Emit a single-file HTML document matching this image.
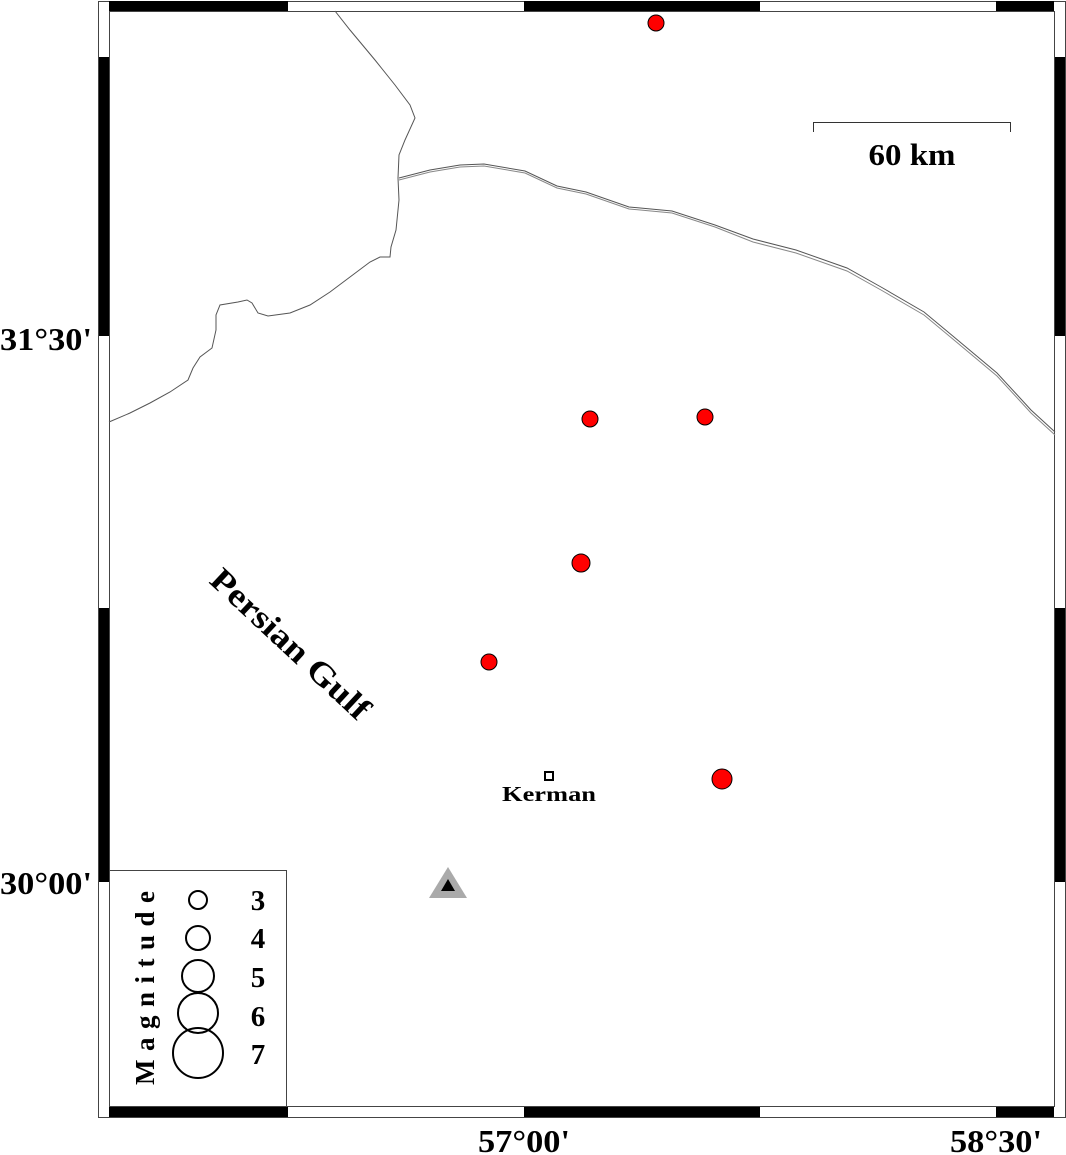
<!DOCTYPE html>
<html><head><meta charset="utf-8"><style>html,body{margin:0;padding:0;background:#fff}svg{display:block}</style></head>
<body>
<svg width="1066" height="1155" viewBox="0 0 1066 1155" xmlns="http://www.w3.org/2000/svg" font-family="Liberation Serif, serif" font-weight="bold">
<rect x="0" y="0" width="1066" height="1155" fill="#fff"/>
<rect x="98.5" y="1.5" width="967" height="1116" fill="#fff" stroke="#444" stroke-width="1"/>
<g fill="#000">
<rect x="109" y="1" width="179" height="10"/><rect x="524" y="1" width="236" height="10"/><rect x="996" y="1" width="58" height="10"/>
<rect x="109" y="1107" width="179" height="10"/><rect x="524" y="1107" width="236" height="10"/><rect x="996" y="1107" width="58" height="10"/>
<rect x="99" y="57" width="10" height="279"/><rect x="99" y="608" width="10" height="274"/>
<rect x="1055" y="57" width="10" height="279"/><rect x="1055" y="608" width="10" height="274"/>
</g>
<rect x="109.5" y="11.5" width="945" height="1095" fill="none" stroke="#444" stroke-width="1"/>
<g fill="none" stroke="#555" stroke-width="1">
<path d="M335,11 L350,30 L375,60 L395,85 L410,105 L415,118 L405,140 L399,155 L398,178 L399,200 L396,230 L391,247 L390,257 L380,257 L370,262 L350,277 L330,292 L310,305 L290,313 L268,316 L258,313 L252,303 L247,300 L238,302 L220,305 L216,315 L216,330 L212,348 L200,357 L193,368 L188,380 L170,392 L150,403 L130,413 L109,422"/>
<path d="M399,178 L430,170 L460,165 L484,164 L525,171 L557,186 L586,192 L629,207 L672,211 L715,225 L753,239 L796,250 L847,268 L881,287 L924,312 L954,337 L997,373 L1031,410 L1055,432"/>
<path d="M399,180 L430,172 L460,167 L484,166 L525,173 L557,188 L586,194 L629,209 L672,213 L715,227 L753,242 L796,253 L847,271 L881,290 L924,315 L954,340 L997,376 L1031,413 L1055,435" stroke="#888"/>
</g>
<g fill="#f00" stroke="#000" stroke-width="1">
<circle cx="656" cy="23" r="8"/>
<circle cx="590" cy="419" r="8"/>
<circle cx="705" cy="417" r="8"/>
<circle cx="581" cy="563" r="9"/>
<circle cx="489" cy="662" r="8"/>
<circle cx="722" cy="779" r="10"/>
</g>
<rect x="545" y="772" width="8" height="8" fill="#fff" stroke="#000" stroke-width="2"/>
<text x="549" y="801" font-size="21" text-anchor="middle" textLength="94" lengthAdjust="spacingAndGlyphs">Kerman</text>
<polygon points="448,867 467,898 429,898" fill="#aaa"/>
<polygon points="448,879 455,891 441,891" fill="#000"/>
<path d="M813.5,132 V122.5 H1010.5 V132" fill="none" stroke="#333" stroke-width="1"/>
<text x="912" y="165" font-size="31" text-anchor="middle" textLength="87" lengthAdjust="spacingAndGlyphs">60 km</text>
<text x="0" y="0" font-size="33" text-anchor="middle" transform="translate(283,652) rotate(43)" textLength="205" lengthAdjust="spacingAndGlyphs">Persian Gulf</text>
<rect x="109.5" y="870.5" width="177" height="236" fill="#fff" stroke="#444" stroke-width="1"/>
<text x="0" y="0" font-size="27" text-anchor="middle" transform="translate(154,988) rotate(-90)" textLength="194" lengthAdjust="spacing">Magnitude</text>
<g fill="none" stroke="#000" stroke-width="2">
<circle cx="198" cy="900" r="9"/>
<circle cx="198" cy="938" r="12"/>
<circle cx="198" cy="976" r="16"/>
<circle cx="198" cy="1013" r="20"/>
<circle cx="198" cy="1053" r="25"/>
</g>
<g font-size="29" text-anchor="middle">
<text x="258" y="910">3</text>
<text x="258" y="948">4</text>
<text x="258" y="987">5</text>
<text x="258" y="1026">6</text>
<text x="258" y="1064">7</text>
</g>
<g font-size="32">
<text x="0" y="350" textLength="92" lengthAdjust="spacingAndGlyphs">31°30'</text>
<text x="0" y="894" textLength="92" lengthAdjust="spacingAndGlyphs">30°00'</text>
<text x="478" y="1152" textLength="92" lengthAdjust="spacingAndGlyphs">57°00'</text>
<text x="950" y="1152" textLength="92" lengthAdjust="spacingAndGlyphs">58°30'</text>
</g>
</svg>
</body></html>
